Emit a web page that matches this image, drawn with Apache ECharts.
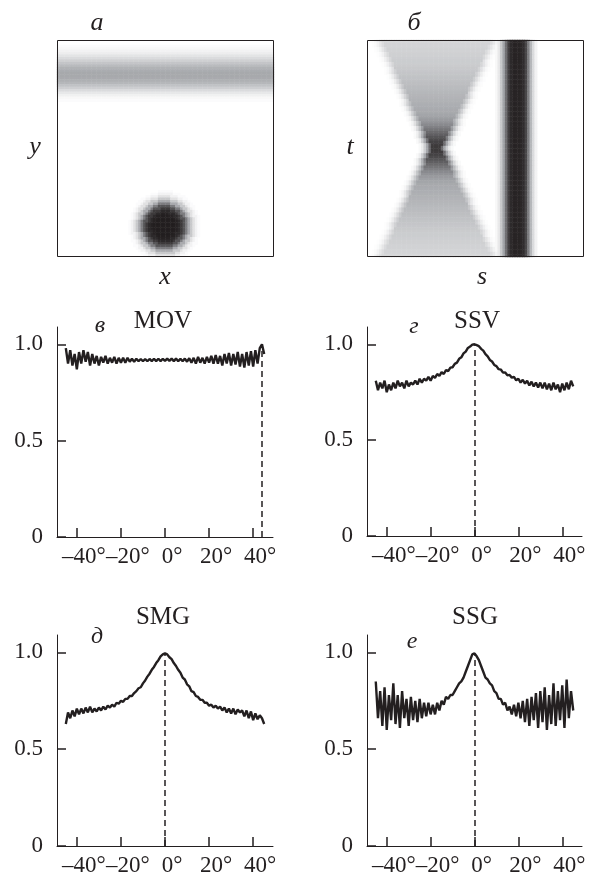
<!DOCTYPE html>
<html>
<head>
<meta charset="utf-8">
<script src="https://cdn.jsdelivr.net/npm/echarts@6/dist/echarts.min.js"></script>
<style>
  html, body { margin: 0; padding: 0; background: #fff; }
  #chart { width: 594px; height: 874px; }
</style>
</head>
<body>
<div id="chart"></div>
<script>
// angles of the four profiles (degrees)
const angles = [
  -45, -44, -43, -42, -41, -40, -39, -38, -37, -36,
  -35, -34, -33, -32, -31, -30, -29, -28, -27, -26,
  -25, -24, -23, -22, -21, -20, -19, -18, -17, -16,
  -15, -14, -13, -12, -11, -10, -9, -8, -7, -6,
  -5, -4, -3, -2, -1, 0, 1, 2, 3, 4,
  5, 6, 7, 8, 9, 10, 11, 12, 13, 14,
  15, 16, 17, 18, 19, 20, 21, 22, 23, 24,
  25, 26, 27, 28, 29, 30, 31, 32, 33, 34,
  35, 36, 37, 38, 39, 40, 41, 42, 43, 44,
  45
]

const movValues = [
  0.98, 0.90, 0.97, 0.89, 0.95, 0.87, 0.96, 0.90, 0.97, 0.91,
  0.96, 0.89, 0.95, 0.90, 0.94, 0.89, 0.935, 0.905, 0.94, 0.90,
  0.93, 0.905, 0.935, 0.90, 0.93, 0.905, 0.93, 0.905, 0.93, 0.91,
  0.925, 0.91, 0.925, 0.912, 0.924, 0.912, 0.924, 0.912, 0.924, 0.913,
  0.925, 0.913, 0.925, 0.913, 0.925, 0.914, 0.926, 0.914, 0.926, 0.913,
  0.926, 0.912, 0.925, 0.912, 0.926, 0.91, 0.928, 0.905, 0.93, 0.90,
  0.935, 0.905, 0.93, 0.90, 0.935, 0.905, 0.94, 0.90, 0.945, 0.90,
  0.94, 0.89, 0.95, 0.90, 0.955, 0.89, 0.95, 0.895, 0.96, 0.885,
  0.95, 0.88, 0.96, 0.89, 0.965, 0.885, 0.97, 0.90, 0.98, 1.0,
  0.95
]

const ssvValues = [
  0.81, 0.76, 0.80, 0.77, 0.81, 0.75, 0.79, 0.76, 0.80, 0.77,
  0.81, 0.78, 0.80, 0.77, 0.81, 0.78, 0.80, 0.79, 0.81, 0.79,
  0.82, 0.80, 0.82, 0.81, 0.83, 0.81, 0.835, 0.825, 0.845, 0.835,
  0.855, 0.845, 0.865, 0.86, 0.878, 0.88, 0.898, 0.904, 0.924, 0.932,
  0.952, 0.962, 0.981, 0.988, 0.998, 1.0, 0.995, 0.99, 0.976, 0.967,
  0.948, 0.937, 0.918, 0.91, 0.892, 0.886, 0.87, 0.868, 0.852, 0.853,
  0.838, 0.84, 0.826, 0.83, 0.812, 0.82, 0.80, 0.815, 0.795, 0.81,
  0.785, 0.805, 0.78, 0.80, 0.775, 0.80, 0.77, 0.80, 0.765, 0.795,
  0.76, 0.80, 0.765, 0.79, 0.75, 0.795, 0.76, 0.80, 0.765, 0.81,
  0.78
]

const smgValues = [
  0.63, 0.69, 0.66, 0.70, 0.67, 0.71, 0.68, 0.71, 0.685, 0.715,
  0.69, 0.72, 0.69, 0.71, 0.695, 0.715, 0.70, 0.72, 0.705, 0.725,
  0.715, 0.73, 0.72, 0.74, 0.735, 0.75, 0.745, 0.76, 0.76, 0.775,
  0.775, 0.79, 0.80, 0.815, 0.82, 0.84, 0.855, 0.875, 0.89, 0.91,
  0.925, 0.945, 0.96, 0.98, 0.99, 0.995, 0.99, 0.975, 0.965, 0.945,
  0.93, 0.91, 0.895, 0.87, 0.86, 0.835, 0.825, 0.80, 0.795, 0.775,
  0.77, 0.755, 0.755, 0.74, 0.74, 0.725, 0.73, 0.715, 0.725, 0.71,
  0.72, 0.70, 0.715, 0.69, 0.71, 0.685, 0.71, 0.68, 0.705, 0.69,
  0.70, 0.67, 0.70, 0.66, 0.695, 0.65, 0.685, 0.655, 0.675, 0.66,
  0.63
]

const ssgValues = [
  0.85, 0.66, 0.80, 0.62, 0.82, 0.60, 0.78, 0.65, 0.84, 0.63,
  0.78, 0.61, 0.80, 0.66, 0.76, 0.62, 0.77, 0.65, 0.75, 0.64,
  0.76, 0.66, 0.74, 0.67, 0.74, 0.68, 0.73, 0.68, 0.74, 0.70,
  0.75, 0.73, 0.77, 0.76, 0.78, 0.78, 0.80, 0.82, 0.84, 0.85,
  0.87, 0.90, 0.93, 0.96, 0.99, 0.995, 0.98, 0.96, 0.93, 0.90,
  0.87, 0.86, 0.84, 0.83, 0.80, 0.79, 0.76, 0.76, 0.73, 0.74,
  0.70, 0.72, 0.68, 0.73, 0.67, 0.74, 0.66, 0.75, 0.64, 0.76,
  0.62, 0.77, 0.65, 0.79, 0.61, 0.80, 0.64, 0.82, 0.60, 0.78,
  0.63, 0.84, 0.62, 0.80, 0.65, 0.83, 0.61, 0.86, 0.66, 0.80,
  0.70
]

const panelTitles = ['MOV', 'SSV', 'SMG', 'SSG']
const panelLetters = ['в', 'г', 'д', 'е']
const dashAngles = [44, 0, 0, 0]
const xTicks = [-40, -20, 0, 20, 40]
const yTicks = [0, 0.5, 1]

// image a (88x88 cells): band darkness per row from the top, blob darkness by distance in cells
const bandRows = [0, 0, 0.02, 0.04, 0.07, 0.1, 0.15, 0.2, 0.26, 0.32, 0.38, 0.43, 0.46,
  0.48, 0.48, 0.47, 0.44, 0.4, 0.34, 0.27, 0.2, 0.13, 0.08, 0.04, 0.02]
const blobCenter = [43.2, 75.2]
const blobProfile = [1, 1, 1, 1, 1, 0.99, 0.96, 0.9, 0.8, 0.65, 0.47, 0.3, 0.16, 0.07, 0.02]

// image б: hourglass half-width and darkness by row distance from the waist
const hourglassCenter = [27.8, 43.5]
const hourglassHalfWidth = [2.0, 2.5, 2.9, 3.4, 3.9, 4.3, 4.8, 5.2, 5.7, 6.2, 6.6,
  7.1, 7.6, 8.0, 8.5, 8.9, 9.4, 9.9, 10.3, 10.8, 11.3, 11.7, 12.2, 12.6, 13.1, 13.6,
  14.0, 14.5, 15.0, 15.4, 15.9, 16.3, 16.8, 17.3, 17.7, 18.2, 18.7, 19.1, 19.6, 20.0,
  20.5, 21.0, 21.4, 21.9]
const hourglassDark = [0.9, 0.89, 0.87, 0.84, 0.8, 0.76, 0.72, 0.68, 0.64, 0.6, 0.57,
  0.54, 0.52, 0.5, 0.48, 0.47, 0.46, 0.45, 0.44, 0.43, 0.42, 0.41, 0.4, 0.39, 0.38, 0.37,
  0.36, 0.35, 0.34, 0.33, 0.32, 0.31, 0.3, 0.29, 0.28, 0.28, 0.27, 0.26, 0.26, 0.25,
  0.25, 0.24, 0.24, 0.23]
const edgeFade = [0.8, 0.55, 0.3, 0.12, 0.04]
// vertical bar: darkness of columns 52..68
const barFirstCol = 52
const barDark = [0.04, 0.12, 0.3, 0.5, 0.7, 0.88, 0.96, 0.98, 0.98, 0.98, 0.97, 0.95,
  0.85, 0.65, 0.4, 0.2, 0.07]

const ink = '#231f20'
const serif = '"Liberation Serif", serif'
const cells = 88
const cellIdx = Array.from({ length: cells }, (_, i) => i)

// build heatmap tables
const dataA = []
const dataB = []
for (let r = 0; r < cells; r++) {
  for (let c = 0; c < cells; c++) {
    const band = bandRows[r] || 0
    const d = Math.round(Math.hypot(c - blobCenter[0], r - blobCenter[1]))
    const blob = blobProfile[d] || 0
    const va = Math.max(band, blob)
    if (va > 0) dataA.push([c, r, va])

    const k = Math.min(hourglassHalfWidth.length - 1, Math.floor(Math.abs(r - hourglassCenter[1])))
    const e = Math.abs(c - hourglassCenter[0]) - hourglassHalfWidth[k]
    const fade = e <= 0 ? 1 : (edgeFade[Math.floor(e)] || 0)
    const hg = hourglassDark[k] * fade
    const bar = barDark[c - barFirstCol] || 0
    const vb = Math.max(hg, bar)
    if (vb > 0) dataB.push([c, r, vb])
  }
}

const chart = echarts.init(document.getElementById('chart'))

const imgRects = [
  { left: 57, top: 40, width: 217, height: 217 },
  { left: 367, top: 40, width: 217, height: 217 }
]
const lineRects = [
  { left: 57, top: 327, width: 216, height: 210 },
  { left: 367, top: 327, width: 215, height: 209 },
  { left: 57, top: 635, width: 216, height: 211 },
  { left: 367, top: 635, width: 215, height: 211 }
]
const profiles = [movValues, ssvValues, smgValues, ssgValues]

const grids = imgRects.concat(lineRects).map(r => Object.assign({ outerBoundsMode: 'none' }, r))
const xAxes = []
const yAxes = []
const series = []

imgRects.forEach((r, i) => {
  xAxes.push({ gridIndex: i, type: 'category', data: cellIdx, show: false })
  yAxes.push({ gridIndex: i, type: 'category', data: cellIdx, inverse: true, show: false })
  series.push({
    type: 'heatmap',
    xAxisIndex: i,
    yAxisIndex: i,
    data: i === 0 ? dataA : dataB,
    progressive: 0,
    emphasis: { disabled: true }
  })
})

lineRects.forEach((r, j) => {
  const g = j + 2
  xAxes.push({
    gridIndex: g, type: 'value', min: -49, max: 49,
    axisLine: { show: true, onZero: false, lineStyle: { color: ink, width: 1 } },
    axisTick: { show: true, inside: true, length: 9, customValues: xTicks, lineStyle: { color: ink, width: 1.5 } },
    axisLabel: {
      customValues: xTicks, margin: 8, padding: [0, 0, 0, 14], hideOverlap: false,
      fontFamily: serif, fontSize: 23, color: ink,
      formatter: v => (v < 0 ? '–' + Math.abs(v) : v) + '°'
    },
    splitLine: { show: false }
  })
  yAxes.push({
    gridIndex: g, type: 'value', min: 0, max: 1.09,
    axisLine: { show: true, onZero: false, lineStyle: { color: ink, width: 1 } },
    axisTick: { show: true, inside: true, length: 9, customValues: yTicks, lineStyle: { color: ink, width: 1.5 } },
    axisLabel: {
      customValues: yTicks, margin: 14, hideOverlap: false,
      fontFamily: serif, fontSize: 23, color: ink,
      formatter: v => (v === 0 ? '0' : v.toFixed(1))
    },
    splitLine: { show: false }
  })
  const vals = profiles[j]
  const dashAt = dashAngles[j]
  series.push({
    type: 'line',
    xAxisIndex: g,
    yAxisIndex: g,
    data: angles.map((a, i) => [a, vals[i]]),
    symbol: 'none',
    lineStyle: { color: ink, width: 2.4 },
    markLine: {
      silent: true,
      symbol: ['none', 'none'],
      label: { show: false },
      lineStyle: { color: ink, width: 1.5, type: [6, 4] },
      data: [[{ coord: [dashAt, 0] }, { coord: [dashAt, vals[angles.indexOf(dashAt)]] }]]
    }
  })
})

function txt(x, y, s, italic, size) {
  return {
    type: 'text', x: x, y: y, z: 100,
    style: {
      text: s, fill: ink, align: 'center', verticalAlign: 'middle',
      font: (italic ? 'italic ' : '') + size + 'px ' + serif
    }
  }
}

const graphics = [
  txt(97, 23, 'a', true, 26),
  txt(35, 147, 'y', true, 26),
  txt(165, 277, 'x', true, 26),
  txt(414, 23, 'б', true, 26),
  txt(350, 147, 't', true, 26),
  txt(482, 277, 's', true, 26),
  txt(100, 326, panelLetters[0], true, 24),
  txt(163, 321, panelTitles[0], false, 25),
  txt(414, 327, panelLetters[1], true, 24),
  txt(477, 321, panelTitles[1], false, 25),
  txt(97, 637, panelLetters[2], true, 24),
  txt(163, 617, panelTitles[2], false, 25),
  txt(412, 642, panelLetters[3], true, 24),
  txt(475, 617, panelTitles[3], false, 25)
]
imgRects.forEach(r => {
  graphics.push({
    type: 'rect', z: 100,
    shape: { x: r.left + 0.5, y: r.top + 0.5, width: r.width - 1, height: r.height - 1 },
    style: { fill: 'transparent', stroke: ink, lineWidth: 1 }
  })
})

const option = {
  animation: false,
  backgroundColor: '#fff',
  grid: grids,
  xAxis: xAxes,
  yAxis: yAxes,
  visualMap: {
    show: false, type: 'continuous', min: 0, max: 1, seriesIndex: [0, 1],
    inRange: { color: ['#ffffff', '#a3a5a9', ink] }
  },
  series: series,
  graphic: graphics
}

chart.setOption(option)
</script>
</body>
</html>
